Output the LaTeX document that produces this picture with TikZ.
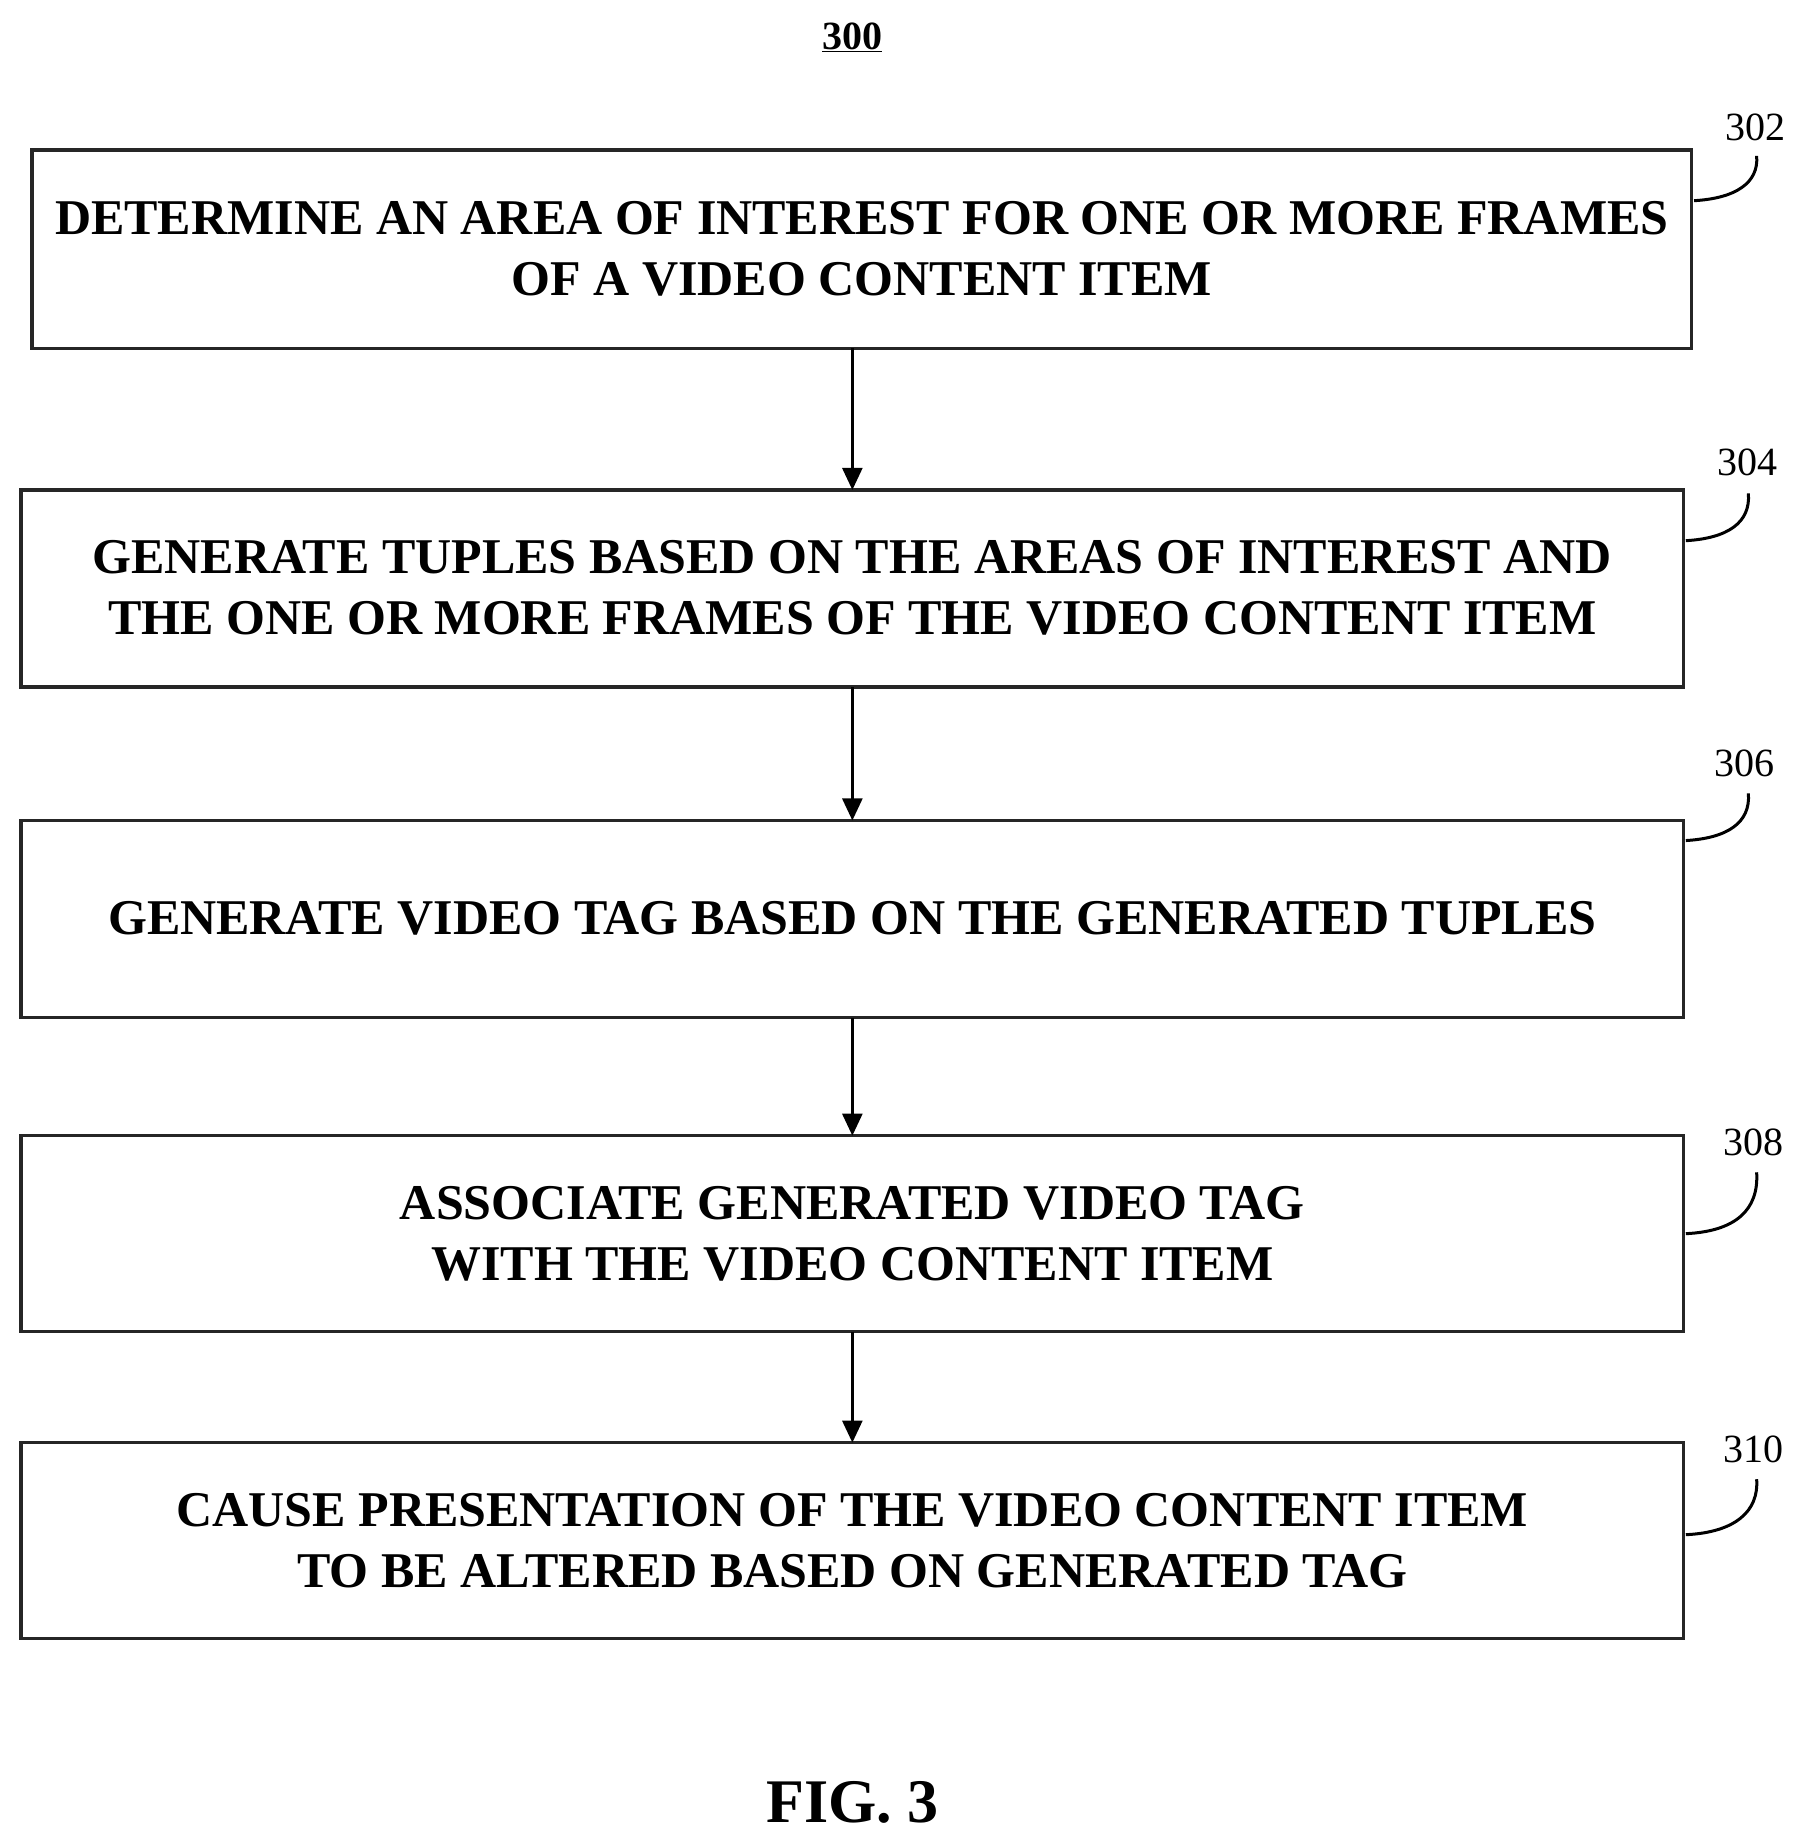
\documentclass[tikz,border=0pt]{standalone}
\usepackage{fontspec}
\setmainfont{Liberation Serif}
\usetikzlibrary{arrows.meta}
\begin{document}
\begin{tikzpicture}[x=1.18pt,y=-1.18pt,
  box/.style={draw=black!85,line width=3.5pt,inner sep=0pt},
  txt/.style={font=\fontsize{50}{61}\selectfont\bfseries,align=center},
  num/.style={font=\fontsize{40}{48}\selectfont},
  arr/.style={line width=2.5pt,-{Triangle[length=22pt,width=20pt]}},
  hook/.style={line width=3pt}]
\useasboundingbox (0,0) rectangle (1530,1562);
\node[font=\fontsize{40}{48}\selectfont\bfseries] (t) at (722,32) {\underline{300}};
\draw[box] (27,127) rectangle (1433,295);
\node[txt] (b1) at (730,211) {DETERMINE AN AREA OF INTEREST FOR ONE OR MORE FRAMES\\OF A VIDEO CONTENT ITEM};
\draw[box] (18,415) rectangle (1426,582);
\node[txt] (b2) at (722,498) {GENERATE TUPLES BASED ON THE AREAS OF INTEREST AND\\THE ONE OR MORE FRAMES OF THE VIDEO CONTENT ITEM};
\draw[box] (18,695) rectangle (1426,862);
\node[txt] (b3) at (722,778) {GENERATE VIDEO TAG BASED ON THE GENERATED TUPLES};
\draw[box] (18,962) rectangle (1426,1128);
\node[txt] (b4) at (722,1045) {ASSOCIATE GENERATED VIDEO TAG\\WITH THE VIDEO CONTENT ITEM};
\draw[box] (18,1222) rectangle (1426,1388);
\node[txt] (b5) at (722,1305) {CAUSE PRESENTATION OF THE VIDEO CONTENT ITEM\\TO BE ALTERED BASED ON GENERATED TAG};
\coordinate (a1) at (722,295); \coordinate (a1e) at (722,415);
\coordinate (a2) at (722,582); \coordinate (a2e) at (722,695);
\coordinate (a3) at (722,862); \coordinate (a3e) at (722,962);
\coordinate (a4) at (722,1128); \coordinate (a4e) at (722,1222);
\draw[arr] (a1)--(a1e); \draw[arr] (a2)--(a2e); \draw[arr] (a3)--(a3e); \draw[arr] (a4)--(a4e);
\node[num] (n1) at (1487,108) {302};
\draw[hook] (1435,170) .. controls (1470,168) and (1490,155) .. (1488,132);
\node[num] (n2) at (1480,392) {304};
\draw[hook] (1428,458) .. controls (1463,456) and (1483,443) .. (1481,418);
\node[num] (n3) at (1478,647) {306};
\draw[hook] (1428,712) .. controls (1463,710) and (1483,697) .. (1481,672);
\node[num] (n4) at (1485,968) {308};
\draw[hook] (1428,1045) .. controls (1470,1043) and (1490,1025) .. (1488,993);
\node[num] (n5) at (1485,1228) {310};
\draw[hook] (1428,1300) .. controls (1470,1298) and (1490,1280) .. (1488,1253);
\node[font=\fontsize{62}{70}\selectfont\bfseries] (fig) at (722,1527) {FIG. 3};
\end{tikzpicture}
\end{document}
